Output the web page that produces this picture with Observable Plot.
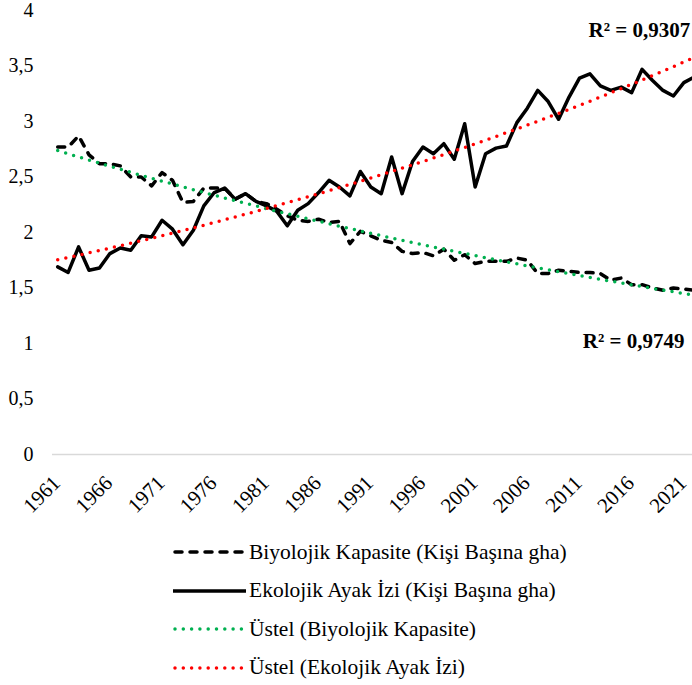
<!DOCTYPE html>
<html>
<head>
<meta charset="utf-8">
<script src="https://cdn.jsdelivr.net/npm/d3@7"></script>
<script src="https://cdn.jsdelivr.net/npm/@observablehq/plot@0.6"></script>
<style>
  html, body { margin: 0; padding: 0; background: #fff; }
  body { width: 692px; height: 685px; overflow: hidden; font-family: "Liberation Serif", "Times New Roman", serif; }
  #legend { padding-left: 173px; margin-top: 13px; }
  .row { height: 38.5px; display: flex; align-items: center; font-size: 21.5px; color: #000; white-space: nowrap; font-family: "Liberation Serif", "Times New Roman", serif; }
  .row svg { margin-right: 3px; flex: none; }
</style>
</head>
<body>
<div id="chart"></div>
<div id="legend"></div>
<script>
const years = [1961,1962,1963,1964,1965,1966,1967,1968,1969,1970,
  1971,1972,1973,1974,1975,1976,1977,1978,1979,1980,
  1981,1982,1983,1984,1985,1986,1987,1988,1989,1990,
  1991,1992,1993,1994,1995,1996,1997,1998,1999,2000,
  2001,2002,2003,2004,2005,2006,2007,2008,2009,2010,
  2011,2012,2013,2014,2015,2016,2017,2018,2019,2020,
  2021,2022];

// Biyolojik Kapasite (Kişi Başına gha)
const biocapacity = [2.77,2.77,2.87,2.70,2.62,2.62,2.60,2.50,2.50,2.42,
  2.54,2.47,2.27,2.28,2.40,2.40,2.40,2.30,2.35,2.28,
  2.26,2.21,2.15,2.11,2.10,2.12,2.09,2.10,1.90,2.01,
  1.97,1.93,1.91,1.83,1.81,1.82,1.79,1.85,1.75,1.80,
  1.72,1.74,1.74,1.74,1.77,1.75,1.63,1.63,1.66,1.65,
  1.64,1.64,1.63,1.57,1.59,1.53,1.53,1.50,1.48,1.50,
  1.49,1.48];

// Ekolojik Ayak İzi (Kişi Başına gha)
const footprint = [1.69,1.64,1.87,1.66,1.68,1.81,1.86,1.84,1.97,1.96,
  2.11,2.03,1.89,2.02,2.24,2.36,2.40,2.30,2.35,2.28,
  2.24,2.19,2.06,2.20,2.26,2.36,2.47,2.41,2.33,2.55,
  2.41,2.35,2.68,2.35,2.64,2.77,2.71,2.80,2.66,2.98,
  2.41,2.71,2.76,2.78,2.99,3.12,3.28,3.18,3.02,3.22,
  3.39,3.43,3.32,3.28,3.31,3.26,3.47,3.37,3.28,3.23,
  3.35,3.40];

const xTickYears = [1961,1966,1971,1976,1981,1986,1991,1996,2001,2006,2011,2016,2021];
const yTicks = [0,0.5,1,1.5,2,2.5,3,3.5,4];
const r2Labels = ["R² = 0,9307", "R² = 0,9749"];
const legendLabels = [
  "Biyolojik Kapasite (Kişi Başına gha)",
  "Ekolojik Ayak İzi (Kişi Başına gha)",
  "Üstel (Biyolojik Kapasite)",
  "Üstel (Ekolojik Ayak İzi)"
];

// Exponential (Üstel) least-squares trendline, as the spreadsheet computes it
function expTrend(vals) {
  const ly = vals.map(Math.log);
  const mx = d3.mean(years), my = d3.mean(ly);
  const b = d3.sum(years, (x, i) => (x - mx) * (ly[i] - my)) / d3.sum(years, x => (x - mx) ** 2);
  const a = my - b * mx;
  return years.map(x => Math.exp(a + b * x));
}
const bioTrend = expTrend(biocapacity);
const ecoTrend = expTrend(footprint);

const rows = years.map((yr, i) => ({year: yr, bio: biocapacity[i], eco: footprint[i], bioT: bioTrend[i], ecoT: ecoTrend[i]}));

const GREEN = "#00b050", RED = "#ff0000";
const fontFamily = '"Liberation Serif", "Times New Roman", serif';
const commaFmt = d => String(d).replace(".", ",");
const DASH = "7,8";
const DOT = "0,8.3";

const chart = Plot.plot({
  width: 692,
  height: 520,
  marginLeft: 52,
  marginRight: 0,
  marginTop: 10,
  marginBottom: 66,
  style: {fontFamily, fontSize: "20px", color: "#000", background: "#fff", overflow: "hidden"},
  x: {type: "linear", domain: [1960.5, 2022.5], range: [52, 699], axis: null},
  y: {domain: [0, 4], ticks: yTicks, tickFormat: commaFmt, tickSize: 0, tickPadding: 19, label: null},
  marks: [
    Plot.ruleY([0], {stroke: "#d9d9d9", strokeWidth: 1.5}),
    Plot.text(xTickYears, {x: d => d, y: 0, text: d => String(d), rotate: -45, textAnchor: "end", lineAnchor: "middle",
      dx: -1, dy: 25, fontSize: 21, fill: "#000"}),
    Plot.line(rows, {x: "year", y: "bio", stroke: "#000", strokeWidth: 3.5, strokeDasharray: DASH, strokeLinecap: "round", strokeLinejoin: "round"}),
    Plot.line(rows, {x: "year", y: "eco", stroke: "#000", strokeWidth: 3.5, strokeLinejoin: "round"}),
    Plot.line(rows, {x: "year", y: "bioT", stroke: GREEN, strokeWidth: 3.5, strokeDasharray: DOT, strokeLinecap: "round"}),
    Plot.line(rows, {x: "year", y: "ecoT", stroke: RED, strokeWidth: 3.5, strokeDasharray: DOT, strokeLinecap: "round"}),
    Plot.text([r2Labels[0]], {frameAnchor: "top-left", textAnchor: "start", lineAnchor: "middle", dx: 536, dy: 20,
      fontWeight: "bold", fontSize: 21, fill: "#000"}),
    Plot.text([r2Labels[1]], {frameAnchor: "top-right", textAnchor: "end", lineAnchor: "middle", dx: -8, dy: 331,
      fontWeight: "bold", fontSize: 21, fill: "#000"})
  ]
});
document.getElementById("chart").appendChild(chart);

// Legend
const legendStyles = [
  {stroke: "#000", dash: DASH, cap: "round"},
  {stroke: "#000", dash: null, cap: "butt"},
  {stroke: GREEN, dash: DOT, cap: "round"},
  {stroke: RED, dash: DOT, cap: "round"}
];
const legend = document.getElementById("legend");
legendLabels.forEach((lab, i) => {
  const s = legendStyles[i];
  const row = document.createElement("div");
  row.className = "row";
  row.innerHTML = `<svg width="73" height="10"><line x1="${s.cap === "round" ? 2 : 0}" y1="5" x2="${s.cap === "round" ? 71 : 73}" y2="5" stroke="${s.stroke}" stroke-width="3.5" ${s.dash ? `stroke-dasharray="${s.dash}"` : ""} stroke-linecap="${s.cap}"/></svg><span></span>`;
  row.querySelector("span").textContent = lab;
  legend.appendChild(row);
});
</script>
</body>
</html>
